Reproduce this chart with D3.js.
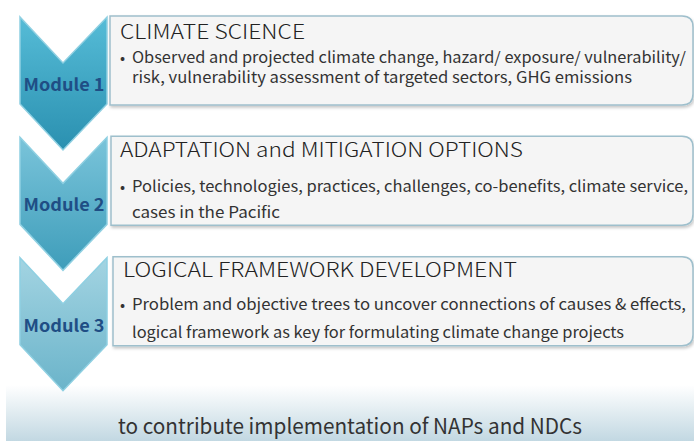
<!DOCTYPE html>
<html>
<head>
<meta charset="utf-8">
<script src="https://cdn.jsdelivr.net/npm/d3@7"></script>
<style>
  body { margin: 0; background: #fff; }
  svg { display: block; font-family: "Noto Sans CJK JP", "Noto Sans", sans-serif; }
</style>
</head>
<body>
<svg width="694" height="441"></svg>
<script>
// module labels, titles and bullet lines
const modules = ['Module 1', 'Module 2', 'Module 3'];
const titles = ['CLIMATE SCIENCE', 'ADAPTATION and MITIGATION OPTIONS', 'LOGICAL FRAMEWORK DEVELOPMENT'];
const bulletLines = [
    ['Observed and projected climate change, hazard/ exposure/ vulnerability/',
     'risk,  vulnerability assessment of targeted sectors, GHG emissions'],
    ['Policies, technologies, practices, challenges, co-benefits, climate service,',
     'cases in the Pacific'],
    ['Problem and objective trees to uncover connections of causes & effects,',
     'logical framework as key for formulating climate change projects']
];
const footer = 'to contribute implementation of NAPs and NDCs';
const chevronColors = [['#56bcd7', '#2a90b0'], ['#7ac4da', '#3e9dba'], ['#a3d4e2', '#6bb4ca']];

const svg = d3.select('svg'),
    width = +svg.attr('width'),
    height = +svg.attr('height');

const defs = svg.append('defs');

// row positions
const y = d3.scaleLinear().domain([0, 3]).range([17, 378]);

// bottom band gradient
const bg = defs.append('linearGradient').attr('id', 'band')
    .attr('x1', 0).attr('y1', 0).attr('x2', 0).attr('y2', 1);
bg.append('stop').attr('offset', '0%').attr('stop-color', '#ffffff');
bg.append('stop').attr('offset', '100%').attr('stop-color', '#c2d8e2');

svg.append('rect')
    .attr('x', 6).attr('y', 385)
    .attr('width', width).attr('height', height - 385)
    .attr('fill', 'url(#band)');

svg.append('text')
    .attr('x', 118).attr('y', 434)
    .attr('font-size', 21)
    .attr('fill', '#333')
    .attr('textLength', 464)
    .attr('lengthAdjust', 'spacingAndGlyphs')
    .text(footer);

// shadow for boxes
const sh = defs.append('filter').attr('id', 'shadow')
    .attr('x', '-5%').attr('y', '-10%').attr('width', '110%').attr('height', '125%');
sh.append('feDropShadow').attr('dx', 1).attr('dy', 2).attr('stdDeviation', 1.5)
    .attr('flood-color', '#000').attr('flood-opacity', 0.22);

chevronColors.forEach(function(c, i){
    const gr = defs.append('linearGradient').attr('id', 'chev' + i)
        .attr('x1', 0).attr('y1', 0).attr('x2', 0).attr('y2', 1);
    gr.append('stop').attr('offset', '0%').attr('stop-color', c[0]);
    gr.append('stop').attr('offset', '100%').attr('stop-color', c[1]);
});

function chevron(y0){
    return 'M20,' + y0 + ' L63,' + (y0 + 46) + ' L107,' + y0 +
        ' L107,' + (y0 + 87) + ' L63,' + (y0 + 133) + ' L20,' + (y0 + 87) + ' Z';
}
function box(x0, y0, x1, y1, r){
    return 'M' + x0 + ',' + y0 + ' L' + (x1 - r) + ',' + y0 +
        ' Q' + x1 + ',' + y0 + ' ' + x1 + ',' + (y0 + r) +
        ' L' + x1 + ',' + (y1 - r) +
        ' Q' + x1 + ',' + y1 + ' ' + (x1 - r) + ',' + y1 +
        ' L' + x0 + ',' + y1 + ' Z';
}

const boxLeft = [110, 111, 113];
const titleX = [120, 120, 123];
const titleY = [39, 157, 277];
const titleW = [185, 403, 394];
const lineY = [[63, 83], [192, 218], [310, 338]];
const lineW = [[554, 500], [556, 148], [554, 492]];

const rows = svg.selectAll('.row')
    .data(modules)
    .enter().append('g')
    .attr('class', 'row');

// chevrons
rows.append('path')
    .attr('d', (d, i) => chevron(y(i)))
    .attr('fill', (d, i) => 'url(#chev' + i + ')')
    .attr('stroke', '#8fd0e2')
    .attr('stroke-width', 1.5);

rows.append('text')
    .attr('x', 64).attr('y', (d, i) => y(i) + 74)
    .attr('text-anchor', 'middle')
    .attr('font-size', 17)
    .attr('font-weight', 'bold')
    .attr('fill', '#1f4e85')
    .attr('textLength', 81)
    .attr('lengthAdjust', 'spacingAndGlyphs')
    .text(d => d);

// boxes
rows.append('path')
    .attr('d', (d, i) => box(boxLeft[i], y(i) - 1, 693, y(i) + 88, 11))
    .attr('fill', '#f5f5f5')
    .attr('stroke', '#9ebfcc')
    .attr('stroke-width', 1.5)
    .attr('filter', 'url(#shadow)');

rows.append('text')
    .attr('x', (d, i) => titleX[i]).attr('y', (d, i) => titleY[i])
    .attr('font-size', 20)
    .attr('font-weight', 300)
    .attr('fill', '#222')
    .attr('textLength', (d, i) => titleW[i])
    .attr('lengthAdjust', 'spacingAndGlyphs')
    .text((d, i) => titles[i]);

rows.each(function(d, i){
    const g = d3.select(this);
    g.append('text')
        .attr('x', 120).attr('y', lineY[i][0])
        .attr('font-size', 15)
        .attr('fill', '#333')
        .text('\u2022');
    g.selectAll('.line')
        .data(bulletLines[i])
        .enter().append('text')
        .attr('class', 'line')
        .attr('x', 132)
        .attr('y', (t, j) => lineY[i][j])
        .attr('font-size', 15.5)
        .attr('fill', '#333')
        .attr('textLength', (t, j) => lineW[i][j])
        .attr('lengthAdjust', 'spacingAndGlyphs')
        .text(t => t);
});
</script>
</body>
</html>
